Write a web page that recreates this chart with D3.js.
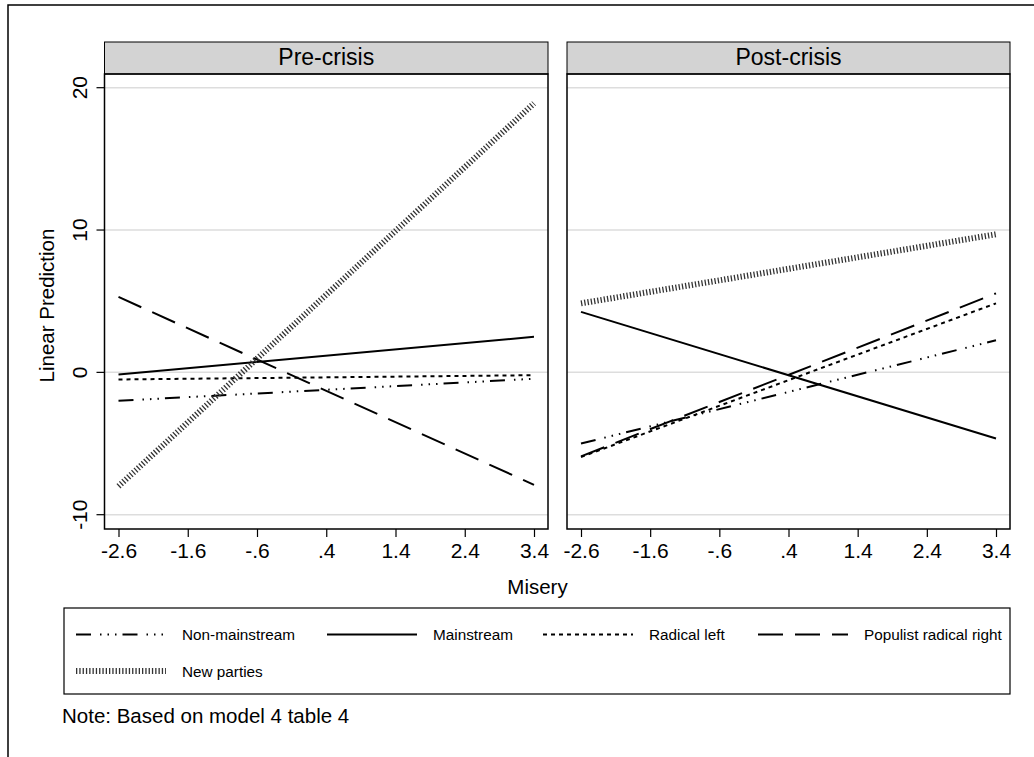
<!DOCTYPE html>
<html>
<head>
<meta charset="utf-8">
<script src="https://cdn.jsdelivr.net/npm/d3@7"></script>
<style>
  body { margin: 0; background: #fff; }
  svg { display: block; font-family: "Liberation Sans", Arial, Helvetica, sans-serif; }
</style>
</head>
<body>
<svg id="chart" width="1034" height="757"></svg>
<script>
// Values
const periods = ["Pre-crisis", "Post-crisis"];
const seriesNames = ["Non-mainstream", "Mainstream", "Radical left", "Populist radical right", "New parties"];
const misery = [-2.6, 3.4]; // predictions are straight lines between these two points
const xTicks = [-2.6, -1.6, -0.6, 0.4, 1.4, 2.4, 3.4];
const yTicks = [-10, 0, 10, 20];

// linear prediction at misery = -2.6 and 3.4, one entry per series
const preStart = [-2.0, -0.15, -0.5, 5.3, -8.0];
const preEnd = [-0.45, 2.5, -0.2, -7.9, 18.9];
const postStart = [-5.0, 4.25, -5.95, -5.9, 4.85];
const postEnd = [2.25, -4.65, 4.85, 5.55, 9.7];

const panelData = [
  [preStart, preEnd],
  [postStart, postEnd],
];

// Line styles per series
const styles = [
  { width: 2, dash: "15,9,1.5,6,1.5,6,1.5,6", color: "#000" },
  { width: 2, dash: null, color: "#000" },
  { width: 2, dash: "4,4", color: "#000" },
  { width: 2, dash: "25,12", color: "#000" },
  { width: 6, dash: "1.3,2", color: "#333" },
];

const svg = d3.select("#chart");

// outer frame (runs off the right and bottom of the picture)
svg.append("rect")
  .attr("x", 8).attr("y", 5)
  .attr("width", 1100).attr("height", 800)
  .attr("fill", "none").attr("stroke", "#000").attr("stroke-width", 1.5);

const panels = [
  { left: 104.5, right: 548 },
  { left: 567, right: 1010 },
];
const plotTop = 74, plotBottom = 529, headerTop = 42;

const y = d3.scaleLinear().domain([-10, 20]).range([514.7, 87.7]);

// Stata style labels: -2.6, -.6, .4
const fmt = (d) => d.toFixed(1).replace(/^(-?)0\./, "$1.");

panels.forEach((p, i) => {
  // x scale: -2.6 sits 14px inside the plot edges
  const x = d3.scaleLinear().domain([-2.6, 3.4]).range([p.left + 14, p.right - 14]);

  const g = svg.append("g");

  // header strip
  g.append("rect")
    .attr("x", p.left).attr("y", headerTop)
    .attr("width", p.right - p.left).attr("height", plotTop - headerTop)
    .attr("fill", "#d3d3d3").attr("stroke", "#000").attr("stroke-width", 1);
  g.append("text")
    .attr("x", (p.left + p.right) / 2).attr("y", 65)
    .attr("text-anchor", "middle")
    .attr("font-size", 23)
    .text(periods[i]);

  // gridlines
  g.selectAll(".grid")
    .data(yTicks)
    .enter()
    .append("line")
    .attr("class", "grid")
    .attr("x1", p.left).attr("x2", p.right)
    .attr("y1", (d) => y(d)).attr("y2", (d) => y(d))
    .attr("stroke", "#dddddd").attr("stroke-width", 1.5);

  // series lines
  const line = d3.line().x((d) => x(d[0])).y((d) => y(d[1]));
  const [starts, ends] = panelData[i];
  seriesNames.forEach((name, k) => {
    const pts = [[misery[0], starts[k]], [misery[1], ends[k]]];
    const st = styles[k];
    g.append("path")
      .attr("d", line(pts))
      .attr("fill", "none")
      .attr("stroke", st.color)
      .attr("stroke-width", st.width)
      .attr("stroke-dasharray", st.dash);
  });

  // plot border
  g.append("rect")
    .attr("x", p.left).attr("y", plotTop)
    .attr("width", p.right - p.left).attr("height", plotBottom - plotTop)
    .attr("fill", "none").attr("stroke", "#000").attr("stroke-width", 1.5);

  // x axis
  const xAxis = d3.axisBottom(x).tickValues(xTicks).tickSize(8).tickPadding(6).tickFormat(fmt);
  const xa = g.append("g").attr("transform", `translate(0,${plotBottom})`).call(xAxis);
  xa.select(".domain").remove();
  xa.selectAll("line").attr("stroke", "#000").attr("stroke-width", 1.2);
  xa.selectAll("text").attr("font-size", 21).attr("fill", "#000")
    .attr("font-family", "Liberation Sans, Arial, sans-serif");

  // y axis only on first panel
  if (i === 0) {
    const ya = g.append("g");
    ya.selectAll("line")
      .data(yTicks)
      .enter()
      .append("line")
      .attr("x1", p.left - 8).attr("x2", p.left)
      .attr("y1", (d) => y(d)).attr("y2", (d) => y(d))
      .attr("stroke", "#000").attr("stroke-width", 1.2);
    ya.selectAll("text")
      .data(yTicks)
      .enter()
      .append("text")
      .attr("transform", (d) => `translate(87,${y(d)}) rotate(-90)`)
      .attr("text-anchor", "middle")
      .attr("font-size", 21)
      .text((d) => d);
  }
});

// axis titles
svg.append("text")
  .attr("transform", "translate(54,305.5) rotate(-90)")
  .attr("text-anchor", "middle")
  .attr("font-size", 20.5)
  .text("Linear Prediction");

svg.append("text")
  .attr("x", 537.5).attr("y", 594)
  .attr("text-anchor", "middle")
  .attr("font-size", 20.5)
  .text("Misery");

// legend
svg.append("rect")
  .attr("x", 64).attr("y", 608)
  .attr("width", 1010 - 64).attr("height", 86)
  .attr("fill", "#fff").attr("stroke", "#000").attr("stroke-width", 1.2);

const legendPos = [
  { x: 76, y: 634.5 },
  { x: 327, y: 634.5 },
  { x: 543, y: 634.5 },
  { x: 758, y: 634.5 },
  { x: 76, y: 671 },
];

const items = svg.selectAll(".legend-item")
  .data(seriesNames)
  .enter()
  .append("g")
  .attr("class", "legend-item")
  .attr("transform", (d, k) => `translate(${legendPos[k].x},${legendPos[k].y})`);

items.append("line")
  .attr("x1", 0).attr("x2", 90)
  .attr("y1", 0).attr("y2", 0)
  .attr("stroke", (d, k) => styles[k].color)
  .attr("stroke-width", (d, k) => styles[k].width)
  .attr("stroke-dasharray", (d, k) => styles[k].dash);

items.append("text")
  .attr("x", 106)
  .attr("y", 5.5)
  .attr("font-size", 15.3)
  .text((d) => d);

// note
svg.append("text")
  .attr("x", 62).attr("y", 723)
  .attr("font-size", 20.5)
  .text("Note: Based on model 4 table 4");
</script>
</body>
</html>
